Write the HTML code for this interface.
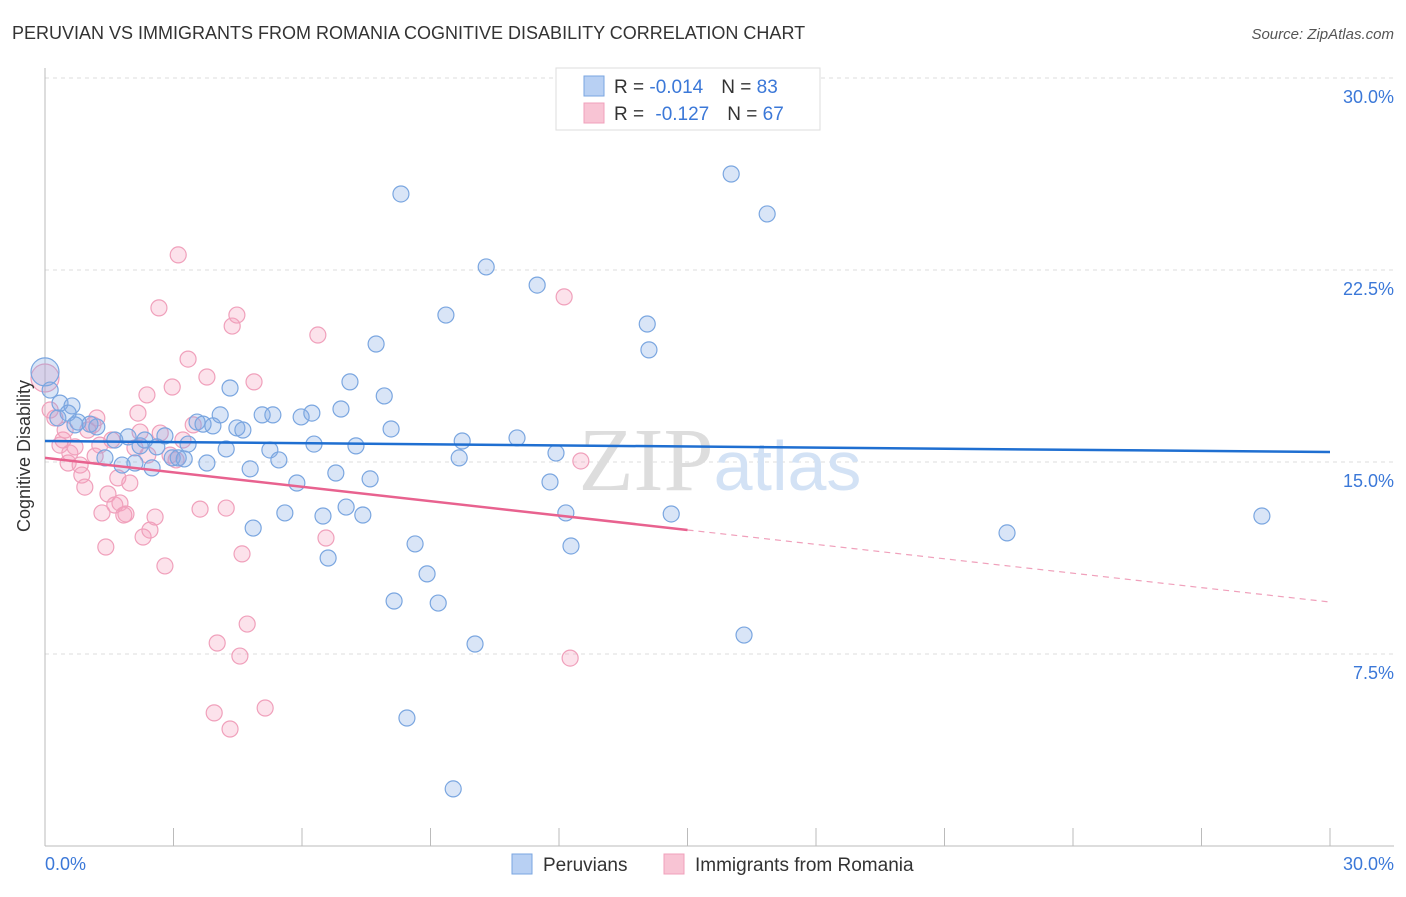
<!DOCTYPE html>
<html><head><meta charset="utf-8"><style>
body{margin:0;background:#fff;font-family:"Liberation Sans",sans-serif}
</style></head><body>
<svg width="1406" height="892" xmlns="http://www.w3.org/2000/svg" font-family="Liberation Sans, sans-serif">
<text x="12" y="39" font-size="18" fill="#333">PERUVIAN VS IMMIGRANTS FROM ROMANIA COGNITIVE DISABILITY CORRELATION CHART</text>
<text x="1394" y="39" font-size="15" fill="#555" font-style="italic" text-anchor="end">Source: ZipAtlas.com</text>
<g id="grid"></g>
<text x="720" y="490" font-size="90" fill="#ddd" text-anchor="middle" font-family="Liberation Serif, serif">ZIP<tspan fill="#d3e2f5" font-family="Liberation Sans, sans-serif" font-size="70">atlas</tspan></text>
<g id="pts"></g>
<g id="lines"></g>
<text x="30" y="456" font-size="18" fill="#333" text-anchor="middle" transform="rotate(-90 30 456)">Cognitive Disability</text>
<text x="45" y="870" font-size="18" fill="#3b78d8">0.0%</text>
<text x="1394" y="870" font-size="18" fill="#3b78d8" text-anchor="end">30.0%</text>
<g>
<rect x="556" y="68" width="264" height="62" fill="#fff" stroke="#ddd"/>
<rect x="584" y="76" width="20" height="20" fill="#b8d0f3" stroke="#7aa6e0"/>
<rect x="584" y="103" width="20" height="20" fill="#f8c4d4" stroke="#f0a0bb"/>
<text x="614" y="93" font-size="19" fill="#333">R = <tspan fill="#3b78d8">-0.014</tspan><tspan dx="18">N = </tspan><tspan fill="#3b78d8">83</tspan></text>
<text x="614" y="120" font-size="19" fill="#333">R = <tspan dx="6" fill="#3b78d8">-0.127</tspan><tspan dx="18">N = </tspan><tspan fill="#3b78d8">67</tspan></text>
</g>
<g>
<rect x="512" y="854" width="20" height="20" fill="#b8d0f3" stroke="#7aa6e0"/>
<text x="543" y="871" font-size="19" fill="#333">Peruvians</text>
<rect x="664" y="854" width="20" height="20" fill="#f8c4d4" stroke="#f0a0bb"/>
<text x="695" y="871" font-size="19" fill="#333">Immigrants from Romania</text>
</g>
</svg>
<script>
const yTicks=[7.5,15,22.5,30];
const yTickLabels=["7.5%","15.0%","22.5%","30.0%"];
const xTicks=[0,3,6,9,12,15,18,21,24,27,30];
const bluePx=[[45,372],[50,390],[60,403],[72,406],[68,413],[78,422],[90,424],[97,427],[105,458],[115,440],[122,465],[128,437],[135,463],[140,446],[152,468],[145,440],[157,447],[165,436],[172,458],[178,458],[184,459],[188,444],[197,422],[203,424],[207,463],[213,426],[220,415],[230,388],[237,428],[243,430],[226,449],[250,469],[253,528],[262,415],[273,415],[270,450],[279,460],[285,513],[297,483],[301,417],[312,413],[314,444],[323,516],[328,558],[336,473],[341,409],[346,507],[350,382],[356,446],[363,515],[370,479],[376,344],[384,396],[391,429],[394,601],[401,194],[407,718],[415,544],[427,574],[438,603],[446,315],[453,789],[459,458],[462,441],[475,644],[486,267],[517,438],[537,285],[550,482],[556,453],[566,513],[571,546],[647,324],[649,350],[671,514],[731,174],[744,635],[767,214],[1007,533],[1262,516],[58,418],[75,425]];
const pinkPx=[[45,378],[50,410],[55,418],[60,445],[63,440],[68,463],[70,453],[75,447],[80,465],[82,475],[85,487],[88,430],[93,425],[97,418],[100,445],[102,513],[106,547],[108,494],[112,440],[115,505],[118,478],[120,503],[124,515],[126,514],[130,483],[135,448],[138,413],[140,432],[143,537],[147,395],[150,530],[155,517],[159,308],[165,566],[170,455],[172,387],[176,460],[178,255],[183,440],[188,359],[193,425],[200,509],[207,377],[214,713],[217,643],[226,508],[230,729],[232,326],[237,315],[240,656],[242,554],[247,624],[254,382],[265,708],[318,335],[326,538],[564,297],[570,658],[581,461],[148,455],[160,433],[95,456],[65,430]];
// convert read pixel positions to data values (x %, y %)
const blueX=bluePx.map(p=>+((p[0]-45)/42.83).toFixed(2)), blueY=bluePx.map(p=>+((846-p[1])/25.6).toFixed(2));
const pinkX=pinkPx.map(p=>+((p[0]-45)/42.83).toFixed(2)), pinkY=pinkPx.map(p=>+((846-p[1])/25.6).toFixed(2));
const blueTrend=[15.82,15.39];
const pinkTrend=[15.16,9.53];
const pinkSolidEnd=15;
const X=v=>45+v*(1285/30), Y=v=>846-v*(768/30);
const NS="http://www.w3.org/2000/svg";
function mk(t,a,p){const e=document.createElementNS(NS,t);for(const k in a)e.setAttribute(k,a[k]);document.getElementById(p).appendChild(e);return e;}
yTicks.forEach((t,i)=>{const l=mk('line',{x1:45,x2:1394,y1:Y(t),y2:Y(t),stroke:'#ddd','stroke-dasharray':'4,4'},'grid');


const tx=mk('text',{x:1394,y:Y(t)+25,'font-size':18,fill:'#3b78d8','text-anchor':'end'},'grid');tx.textContent=yTickLabels[i];

});
const ax=mk('line',{x1:45,x2:45,y1:68,y2:846,stroke:'#bbb'},'grid');


const bx=mk('line',{x1:45,x2:1394,y1:846,y2:846,stroke:'#bbb'},'grid');


xTicks.forEach(t=>{const l=mk('line',{x1:X(t),x2:X(t),y1:828,y2:846,stroke:'#bbb'},'grid');

});
function pts(xs,ys,f,s,n){xs.forEach((x,i)=>{const c=mk('circle',{cx:X(x),cy:Y(ys[i]),r:i==0?14:8,fill:f,stroke:s,'stroke-width':1.2},'pts');

});}
pts(pinkX,pinkY,'rgba(244,160,190,0.3)','#f0a0bb','romania-point');
pts(blueX,blueY,'rgba(130,170,230,0.3)','#7aa6e0','peruvian-point');
let l=mk('line',{x1:X(0),y1:Y(blueTrend[0]),x2:X(30),y2:Y(blueTrend[1]),stroke:'#1f6fd1','stroke-width':2.5},'lines');


const pm=pinkTrend[0]+(pinkTrend[1]-pinkTrend[0])*pinkSolidEnd/30;
l=mk('line',{x1:X(0),y1:Y(pinkTrend[0]),x2:X(pinkSolidEnd),y2:Y(pm),stroke:'#e8628f','stroke-width':2.5},'lines');


l=mk('line',{x1:X(pinkSolidEnd),y1:Y(pm),x2:X(30),y2:Y(pinkTrend[1]),stroke:'#f0a0bb','stroke-width':1.2,'stroke-dasharray':'6,5'},'lines');


</script>
</body></html>
